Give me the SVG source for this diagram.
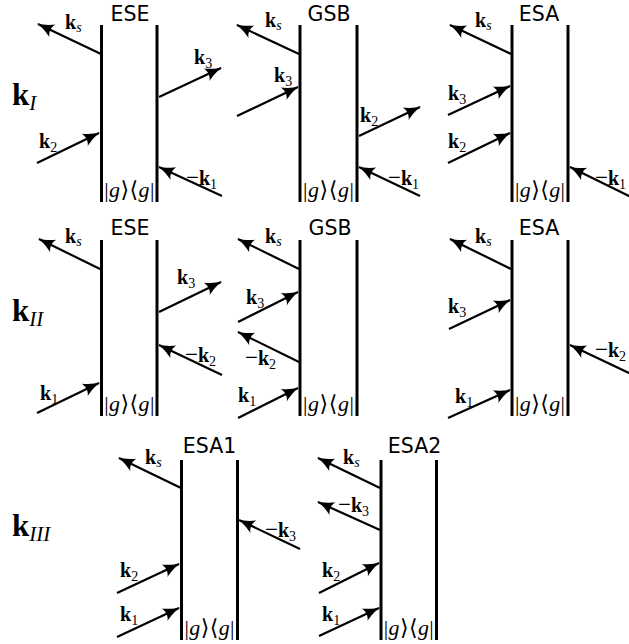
<svg xmlns="http://www.w3.org/2000/svg" width="629" height="644" viewBox="0 0 629 644">
<defs>
<style>
.vl{stroke:#000;stroke-width:3;fill:none}
.ar{stroke:#000;stroke-width:2.2;fill:none;marker-end:url(#ah)}
.hd{font-family:"DejaVu Sans",sans-serif;font-size:20.5px;text-anchor:middle;fill:#000}
.lb{font-family:"Liberation Serif","DejaVu Serif",serif;font-size:20px;fill:#000}
.k{font-weight:bold}
.sb{font-size:14px}
.it{font-style:italic}
.mn{font-size:23px}
.big{font-size:31px}
.bsb{font-size:21px;font-style:italic}
.gg{font-family:"Liberation Serif","DejaVu Serif",serif;font-size:22px;text-anchor:middle;fill:#000}
</style>
<marker id="ah" markerUnits="userSpaceOnUse" markerWidth="18" markerHeight="14" viewBox="0 0 18 14" refX="17" refY="7" orient="auto">
<path d="M18,7 C12,6 5,2.5 1,0 C4,4 4,10 1,14 C5,11.5 12,8 18,7 Z" fill="#000"/>
</marker>
</defs>
<rect width="629" height="644" fill="#fff"/>

<g id="row-labels">
<text class="lb big" x="12" y="105"><tspan class="k">k</tspan><tspan class="bsb" dy="5">I</tspan></text>
<text class="lb big" x="12" y="321"><tspan class="k">k</tspan><tspan class="bsb" dy="5">II</tspan></text>
<text class="lb big" x="12" y="536"><tspan class="k">k</tspan><tspan class="bsb" dy="5">III</tspan></text>
</g>

<g id="d1-ese">
<line class="vl" x1="101.5" y1="25" x2="101.5" y2="202"/><line class="vl" x1="157" y1="25" x2="157" y2="202"/>
<text class="hd" x="130" y="21">ESE</text>
<text class="gg" x="129.3" y="197" textLength="50" lengthAdjust="spacing">|<tspan class="it">g</tspan>⟩⟨<tspan class="it">g</tspan>|</text>
</g>
<g id="d2-gsb">
<line class="vl" x1="300" y1="25" x2="300" y2="202"/><line class="vl" x1="357" y1="25" x2="357" y2="202"/>
<text class="hd" x="329" y="21">GSB</text>
<text class="gg" x="328.5" y="197" textLength="51" lengthAdjust="spacing">|<tspan class="it">g</tspan>⟩⟨<tspan class="it">g</tspan>|</text>
</g>
<g id="d3-esa">
<line class="vl" x1="512" y1="25" x2="512" y2="202"/><line class="vl" x1="568" y1="25" x2="568" y2="202"/>
<text class="hd" x="539" y="21">ESA</text>
<text class="gg" x="540" y="197" textLength="50" lengthAdjust="spacing">|<tspan class="it">g</tspan>⟩⟨<tspan class="it">g</tspan>|</text>
</g>
<g id="d4-ese">
<line class="vl" x1="101.5" y1="240" x2="101.5" y2="416"/><line class="vl" x1="157" y1="240" x2="157" y2="416"/>
<text class="hd" x="130" y="235">ESE</text>
<text class="gg" x="129.3" y="411" textLength="50" lengthAdjust="spacing">|<tspan class="it">g</tspan>⟩⟨<tspan class="it">g</tspan>|</text>
</g>
<g id="d5-gsb">
<line class="vl" x1="300" y1="240" x2="300" y2="416"/><line class="vl" x1="357" y1="240" x2="357" y2="416"/>
<text class="hd" x="330" y="235">GSB</text>
<text class="gg" x="328.5" y="411" textLength="51" lengthAdjust="spacing">|<tspan class="it">g</tspan>⟩⟨<tspan class="it">g</tspan>|</text>
</g>
<g id="d6-esa">
<line class="vl" x1="512" y1="240" x2="512" y2="416"/><line class="vl" x1="568" y1="240" x2="568" y2="416"/>
<text class="hd" x="539" y="235">ESA</text>
<text class="gg" x="540" y="411" textLength="50" lengthAdjust="spacing">|<tspan class="it">g</tspan>⟩⟨<tspan class="it">g</tspan>|</text>
</g>
<g id="d7-esa1">
<line class="vl" x1="181.5" y1="460" x2="181.5" y2="640"/><line class="vl" x1="237.5" y1="460" x2="237.5" y2="640"/>
<text class="hd" x="209.5" y="453">ESA1</text>
<text class="gg" x="209.5" y="635" textLength="50" lengthAdjust="spacing">|<tspan class="it">g</tspan>⟩⟨<tspan class="it">g</tspan>|</text>
</g>
<g id="d8-esa2">
<line class="vl" x1="381" y1="460" x2="381" y2="640"/><line class="vl" x1="436.5" y1="460" x2="436.5" y2="640"/>
<text class="hd" x="414.5" y="453">ESA2</text>
<text class="gg" x="408.7" y="635" textLength="50" lengthAdjust="spacing">|<tspan class="it">g</tspan>⟩⟨<tspan class="it">g</tspan>|</text>
</g>

<g id="connectors">
<line class="ar" x1="101" y1="54" x2="38" y2="24"/>
<line class="ar" x1="159" y1="97" x2="221" y2="68"/>
<line class="ar" x1="37" y1="163" x2="99" y2="133"/>
<line class="ar" x1="222" y1="196" x2="159" y2="167"/>

<line class="ar" x1="299" y1="54" x2="237" y2="25"/>
<line class="ar" x1="237" y1="116" x2="298" y2="87"/>
<line class="ar" x1="359" y1="136" x2="420" y2="107"/>
<line class="ar" x1="420" y1="196" x2="359" y2="167"/>

<line class="ar" x1="511" y1="54" x2="450" y2="25"/>
<line class="ar" x1="448" y1="115" x2="510" y2="86"/>
<line class="ar" x1="448" y1="163" x2="510" y2="133"/>
<line class="ar" x1="631" y1="197" x2="570" y2="167"/>

<line class="ar" x1="100" y1="269" x2="39" y2="239"/>
<line class="ar" x1="159" y1="312" x2="221" y2="282"/>
<line class="ar" x1="222" y1="375" x2="159" y2="345"/>
<line class="ar" x1="37" y1="413" x2="99" y2="383"/>

<line class="ar" x1="299" y1="269" x2="238" y2="239"/>
<line class="ar" x1="238" y1="322" x2="298" y2="292"/>
<line class="ar" x1="299" y1="362" x2="238" y2="332"/>
<line class="ar" x1="238" y1="418" x2="298" y2="388"/>

<line class="ar" x1="511" y1="269" x2="450" y2="239"/>
<line class="ar" x1="449" y1="329" x2="510" y2="300"/>
<line class="ar" x1="631" y1="374" x2="570" y2="345"/>
<line class="ar" x1="448" y1="418" x2="510" y2="390"/>

<line class="ar" x1="181" y1="488" x2="119" y2="458"/>
<line class="ar" x1="300" y1="549" x2="239" y2="520"/>
<line class="ar" x1="117" y1="593" x2="179" y2="564"/>
<line class="ar" x1="117" y1="637" x2="179" y2="608"/>

<line class="ar" x1="380" y1="488" x2="318" y2="458"/>
<line class="ar" x1="380" y1="530" x2="318" y2="502"/>
<line class="ar" x1="319" y1="593" x2="379" y2="563"/>
<line class="ar" x1="319" y1="636" x2="379" y2="608"/>
</g>

<g id="arrow-labels">
<text class="lb" x="65" y="29"><tspan class="k">k</tspan><tspan class="sb it" dy="3">s</tspan></text>
<text class="lb" x="194" y="64"><tspan class="k">k</tspan><tspan class="sb" dy="4">3</tspan></text>
<text class="lb" x="39" y="148"><tspan class="k">k</tspan><tspan class="sb" dy="4">2</tspan></text>
<text class="lb" x="186" y="185"><tspan class="mn">−</tspan><tspan class="k">k</tspan><tspan class="sb" dy="4">1</tspan></text>

<text class="lb" x="265" y="27"><tspan class="k">k</tspan><tspan class="sb it" dy="3">s</tspan></text>
<text class="lb" x="274" y="82"><tspan class="k">k</tspan><tspan class="sb" dy="4">3</tspan></text>
<text class="lb" x="360" y="122"><tspan class="k">k</tspan><tspan class="sb" dy="4">2</tspan></text>
<text class="lb" x="388" y="185"><tspan class="mn">−</tspan><tspan class="k">k</tspan><tspan class="sb" dy="4">1</tspan></text>

<text class="lb" x="475" y="27"><tspan class="k">k</tspan><tspan class="sb it" dy="3">s</tspan></text>
<text class="lb" x="448" y="100"><tspan class="k">k</tspan><tspan class="sb" dy="4">3</tspan></text>
<text class="lb" x="448" y="148"><tspan class="k">k</tspan><tspan class="sb" dy="4">2</tspan></text>
<text class="lb" x="595" y="185"><tspan class="mn">−</tspan><tspan class="k">k</tspan><tspan class="sb" dy="4">1</tspan></text>

<text class="lb" x="65" y="243"><tspan class="k">k</tspan><tspan class="sb it" dy="3">s</tspan></text>
<text class="lb" x="177" y="284"><tspan class="k">k</tspan><tspan class="sb" dy="4">3</tspan></text>
<text class="lb" x="185" y="362"><tspan class="mn">−</tspan><tspan class="k">k</tspan><tspan class="sb" dy="4">2</tspan></text>
<text class="lb" x="40" y="400"><tspan class="k">k</tspan><tspan class="sb" dy="4">1</tspan></text>

<text class="lb" x="265" y="243"><tspan class="k">k</tspan><tspan class="sb it" dy="3">s</tspan></text>
<text class="lb" x="246" y="304"><tspan class="k">k</tspan><tspan class="sb" dy="4">3</tspan></text>
<text class="lb" x="245" y="365"><tspan class="mn">−</tspan><tspan class="k">k</tspan><tspan class="sb" dy="4">2</tspan></text>
<text class="lb" x="238" y="402"><tspan class="k">k</tspan><tspan class="sb" dy="4">1</tspan></text>

<text class="lb" x="475" y="243"><tspan class="k">k</tspan><tspan class="sb it" dy="3">s</tspan></text>
<text class="lb" x="448" y="313"><tspan class="k">k</tspan><tspan class="sb" dy="4">3</tspan></text>
<text class="lb" x="595" y="357"><tspan class="mn">−</tspan><tspan class="k">k</tspan><tspan class="sb" dy="4">2</tspan></text>
<text class="lb" x="455" y="403"><tspan class="k">k</tspan><tspan class="sb" dy="4">1</tspan></text>

<text class="lb" x="145" y="464"><tspan class="k">k</tspan><tspan class="sb it" dy="3">s</tspan></text>
<text class="lb" x="265" y="537"><tspan class="mn">−</tspan><tspan class="k">k</tspan><tspan class="sb" dy="4">3</tspan></text>
<text class="lb" x="120" y="577"><tspan class="k">k</tspan><tspan class="sb" dy="4">2</tspan></text>
<text class="lb" x="120" y="621"><tspan class="k">k</tspan><tspan class="sb" dy="4">1</tspan></text>

<text class="lb" x="343" y="464"><tspan class="k">k</tspan><tspan class="sb it" dy="3">s</tspan></text>
<text class="lb" x="338" y="512"><tspan class="mn">−</tspan><tspan class="k">k</tspan><tspan class="sb" dy="4">3</tspan></text>
<text class="lb" x="322" y="577"><tspan class="k">k</tspan><tspan class="sb" dy="4">2</tspan></text>
<text class="lb" x="322" y="621"><tspan class="k">k</tspan><tspan class="sb" dy="4">1</tspan></text>
</g>
</svg>
